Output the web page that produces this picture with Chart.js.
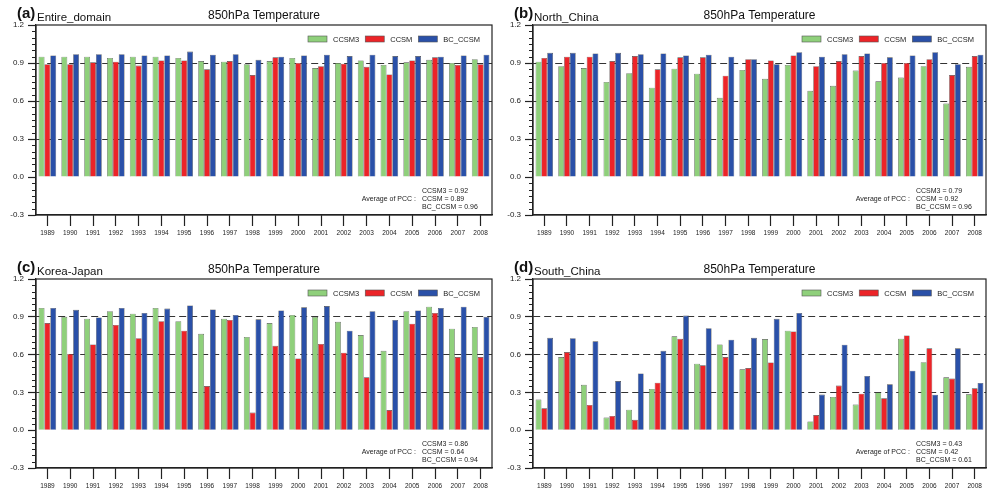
<!DOCTYPE html>
<html>
<head>
<meta charset="utf-8">
<script src="https://cdn.jsdelivr.net/npm/chart.js@4.4.0/dist/chart.umd.min.js"></script>
<style>
  html, body { margin: 0; padding: 0; background: #fff; width: 987px; height: 495px; overflow: hidden; }
  canvas { position: absolute; }
</style>
</head>
<body>
<canvas id="chartA" width="493" height="247" style="left:0;top:0;width:493px;height:247px"></canvas>
<canvas id="chartB" width="490" height="247" style="left:497px;top:0;width:490px;height:247px"></canvas>
<canvas id="chartC" width="493" height="245" style="left:0;top:250px;width:493px;height:245px"></canvas>
<canvas id="chartD" width="490" height="245" style="left:497px;top:250px;width:490px;height:245px"></canvas>
<script>
const years = ['1989', '1990', '1991', '1992', '1993', '1994', '1995', '1996', '1997', '1998',
               '1999', '2000', '2001', '2002', '2003', '2004', '2005', '2006', '2007', '2008'];
const seriesNames = ['CCSM3', 'CCSM', 'BC_CCSM'];
const refLines = [0.3, 0.6, 0.9];

// (a) Entire_domain
const entireCCSM3 = [0.95, 0.95, 0.95, 0.94, 0.95, 0.95, 0.94, 0.915, 0.91, 0.89, 0.915, 0.94, 0.86, 0.90, 0.92, 0.885, 0.905, 0.925, 0.90, 0.93];
const entireCCSM  = [0.89, 0.89, 0.905, 0.91, 0.88, 0.92, 0.92, 0.85, 0.915, 0.805, 0.945, 0.90, 0.875, 0.895, 0.87, 0.81, 0.92, 0.945, 0.885, 0.89];
const entireBC    = [0.96, 0.97, 0.97, 0.97, 0.96, 0.96, 0.99, 0.965, 0.97, 0.925, 0.95, 0.96, 0.965, 0.955, 0.965, 0.955, 0.955, 0.95, 0.96, 0.965];
const entirePCC   = [0.92, 0.89, 0.96];

// (b) North_China
const northCCSM3 = [0.91, 0.875, 0.86, 0.75, 0.82, 0.705, 0.855, 0.815, 0.625, 0.845, 0.775, 0.885, 0.68, 0.72, 0.84, 0.755, 0.785, 0.875, 0.58, 0.87];
const northCCSM  = [0.94, 0.95, 0.95, 0.915, 0.955, 0.85, 0.945, 0.945, 0.80, 0.93, 0.92, 0.96, 0.875, 0.915, 0.955, 0.90, 0.90, 0.93, 0.805, 0.955];
const northBC    = [0.98, 0.98, 0.975, 0.98, 0.97, 0.975, 0.96, 0.965, 0.95, 0.93, 0.89, 0.985, 0.95, 0.97, 0.975, 0.945, 0.96, 0.985, 0.89, 0.965];
const northPCC   = [0.79, 0.92, 0.96];

// (c) Korea-Japan
const koreaCCSM3 = [0.97, 0.90, 0.885, 0.945, 0.925, 0.97, 0.865, 0.765, 0.885, 0.74, 0.85, 0.915, 0.90, 0.86, 0.755, 0.63, 0.945, 0.98, 0.805, 0.82];
const koreaCCSM  = [0.85, 0.605, 0.68, 0.835, 0.73, 0.865, 0.79, 0.35, 0.875, 0.14, 0.67, 0.57, 0.685, 0.615, 0.42, 0.16, 0.845, 0.93, 0.58, 0.58];
const koreaBC    = [0.97, 0.955, 0.895, 0.97, 0.93, 0.965, 0.99, 0.958, 0.915, 0.88, 0.95, 0.975, 0.985, 0.79, 0.945, 0.875, 0.95, 0.97, 0.98, 0.90];
const koreaPCC   = [0.86, 0.64, 0.94];

// (d) South_China
const southCCSM3 = [0.243, 0.58, 0.36, 0.10, 0.163, 0.327, 0.745, 0.528, 0.68, 0.483, 0.723, 0.79, 0.07, 0.264, 0.203, 0.30, 0.726, 0.54, 0.42, 0.285];
const southCCSM  = [0.174, 0.62, 0.20, 0.113, 0.082, 0.377, 0.725, 0.515, 0.58, 0.493, 0.538, 0.784, 0.12, 0.354, 0.29, 0.253, 0.752, 0.65, 0.41, 0.332];
const southBC    = [0.733, 0.73, 0.705, 0.39, 0.45, 0.63, 0.91, 0.81, 0.718, 0.733, 0.884, 0.93, 0.283, 0.678, 0.43, 0.364, 0.472, 0.282, 0.65, 0.375];
const southPCC   = [0.43, 0.42, 0.61];

const barColors = ['#8fd07b', '#ec2428', '#2a50a8'];
const FONT = "'Liberation Sans', Arial, Helvetica, sans-serif";
const INK = '#222';

// frame, minor ticks, titles, legend and the PCC note
const panelDecor = {
  id: 'panelDecor',
  afterDraw(chart, args, opts) {
    const { ctx, chartArea: a, scales: { y } } = chart;
    ctx.save();
    ctx.strokeStyle = INK;
    ctx.lineWidth = 1.2;
    ctx.strokeRect(a.left, a.top, a.right - a.left, a.bottom - a.top);

    // minor ticks every 0.05
    ctx.lineWidth = 1;
    for (let i = 0; ; i++) {
      const v = y.min + i * 0.05;
      if (v > y.max + 1e-9) break;
      const r = Math.abs(v / 0.3 - Math.round(v / 0.3));
      if (r < 1e-6) continue;
      const py = Math.round(y.getPixelForValue(v)) + 0.5;
      ctx.beginPath();
      ctx.moveTo(a.left - 4, py);
      ctx.lineTo(a.left, py);
      ctx.stroke();
    }

    // panel letter, region, title
    ctx.fillStyle = '#111';
    ctx.textBaseline = 'alphabetic';
    ctx.textAlign = 'left';
    ctx.font = 'bold 15px ' + FONT;
    const lx = a.left - 19;
    ctx.fillText(opts.letter, lx, a.top - 7);
    ctx.font = '11.5px ' + FONT;
    ctx.fillText(opts.region, a.left + 1, a.top - 4);
    ctx.font = '12px ' + FONT;
    ctx.textAlign = 'center';
    ctx.fillText('850hPa Temperature', (a.left + a.right) / 2, a.top - 6);

    // legend, top right inside the frame
    ctx.font = '7.5px ' + FONT;
    ctx.textAlign = 'left';
    ctx.textBaseline = 'middle';
    const items = chart.data.datasets.map(d => ({ label: d.label, color: d.backgroundColor, w: ctx.measureText(d.label).width }));
    const boxW = 19, boxH = 6, gap = 6, itemGap = 6;
    let total = 0;
    items.forEach((it, i) => { total += boxW + gap + it.w + (i < items.length - 1 ? itemGap : 0); });
    let x = a.right - 12 - total;
    const ly = a.top + 14;
    items.forEach(it => {
      ctx.fillStyle = it.color;
      ctx.fillRect(x, ly - boxH / 2, boxW, boxH);
      ctx.strokeStyle = '#555';
      ctx.lineWidth = 0.6;
      ctx.strokeRect(x, ly - boxH / 2, boxW, boxH);
      ctx.fillStyle = INK;
      ctx.fillText(it.label, x + boxW + gap, ly + 0.5);
      x += boxW + gap + it.w + itemGap;
    });

    // average PCC note, bottom right
    ctx.font = '7px ' + FONT;
    const tx = a.right - 70;
    const baseY = a.bottom - 8;
    opts.pcc.forEach((v, i) => {
      ctx.textAlign = 'left';
      ctx.fillText(seriesNames[i] + ' = ' + v.toFixed(2), tx, baseY - (2 - i) * 8);
    });
    ctx.textAlign = 'right';
    ctx.fillText('Average of PCC :', tx - 6, baseY - 8);
    ctx.restore();
  }
};

function makePanel(id, letter, region, s1, s2, s3, pcc, padTop, xHeight) {
  const data = [s1, s2, s3];
  new Chart(document.getElementById(id), {
    type: 'bar',
    data: {
      labels: years,
      datasets: seriesNames.map((name, i) => ({
        label: name,
        data: data[i],
        backgroundColor: barColors[i],
        borderColor: '#4a4a4a',
        borderWidth: 0.6,
        barPercentage: 1.0,
        categoryPercentage: 0.77
      }))
    },
    options: {
      responsive: false,
      animation: false,
      layout: { padding: { top: padTop, right: 1, left: 0, bottom: 0 } },
      plugins: {
        legend: { display: false },
        tooltip: { enabled: false },
        panelDecor: { letter: letter, region: region, pcc: pcc }
      },
      scales: {
        x: {
          offset: true,
          grid: { offset: false, drawOnChartArea: false, drawTicks: true, tickLength: 11, tickColor: INK, tickWidth: 1.2 },
          border: { display: true, color: INK, width: 1.2 },
          ticks: { autoSkip: false, maxRotation: 0, padding: 3, color: INK, font: { family: FONT, size: 6.5 } },
          afterFit: s => { s.height = xHeight; }
        },
        y: {
          min: -0.3,
          max: 1.2,
          grid: {
            color: c => refLines.some(r => Math.abs(c.tick.value - r) < 1e-6) ? '#333' : 'rgba(0,0,0,0)',
            lineWidth: 1,
            tickLength: 8,
            tickColor: INK,
            tickWidth: 1.2
          },
          border: { display: true, color: INK, width: 1.2, dash: [7, 4] },
          ticks: {
            stepSize: 0.3,
            padding: 4,
            color: INK,
            font: { family: FONT, size: 8 },
            callback: v => Number(v).toFixed(1)
          },
          afterFit: s => { s.width = 36; }
        }
      }
    },
    plugins: [panelDecor]
  });
}

makePanel('chartA', '(a)', 'Entire_domain', entireCCSM3, entireCCSM, entireBC, entirePCC, 25, 32);
makePanel('chartB', '(b)', 'North_China', northCCSM3, northCCSM, northBC, northPCC, 25, 32);
makePanel('chartC', '(c)', 'Korea-Japan', koreaCCSM3, koreaCCSM, koreaBC, koreaPCC, 29, 27);
makePanel('chartD', '(d)', 'South_China', southCCSM3, southCCSM, southBC, southPCC, 29, 27);
</script>
</body>
</html>
